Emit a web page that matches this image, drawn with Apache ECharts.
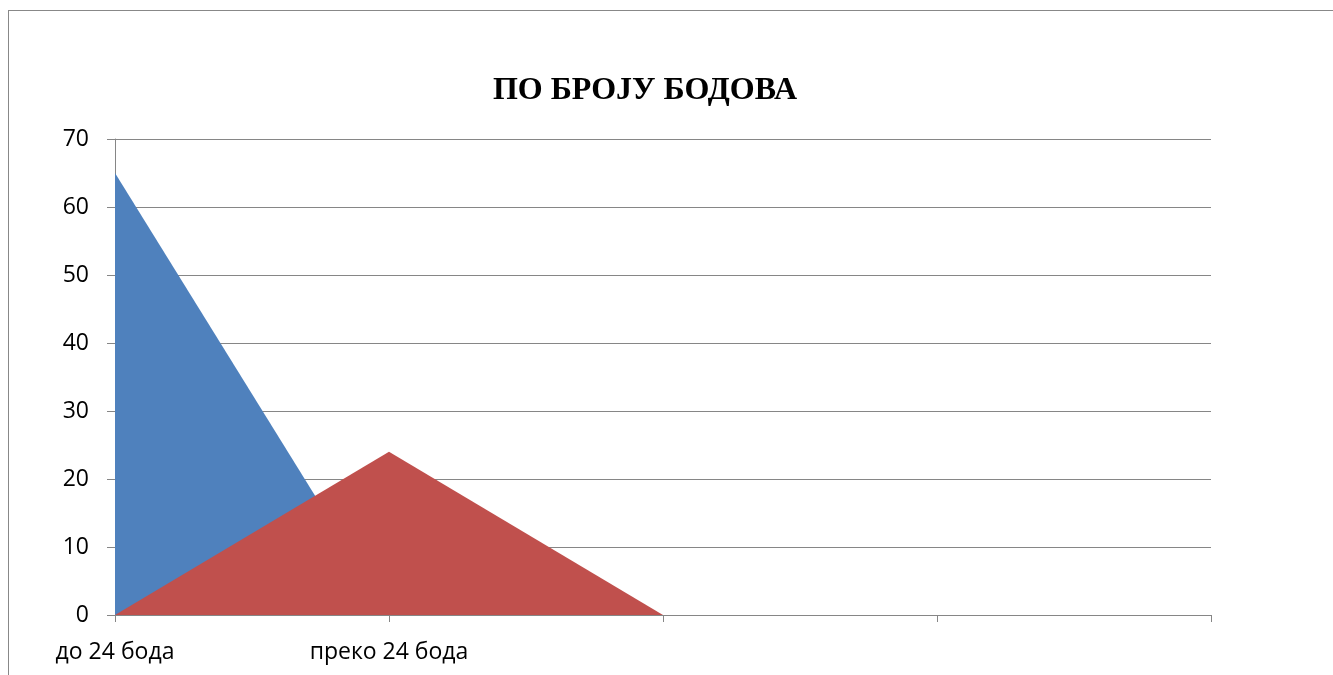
<!DOCTYPE html>
<html>
<head>
<meta charset="utf-8">
<script src="https://cdn.jsdelivr.net/npm/echarts@6/dist/echarts.min.js"></script>
<style>
  html, body { margin: 0; padding: 0; background: #fff; }
  #frame {
    position: absolute; left: 8px; top: 10px; width: 1400px; height: 700px;
    border: 1px solid #888; box-sizing: border-box;
  }
  #box { position: absolute; left: 0; top: 0; width: 1333px; height: 675px; }
</style>
</head>
<body>
<div id="frame"></div>
<div id="box"></div>
<script>
// категорије и вредности
const categories = ["до 24 бода", "преко 24 бода", "", "", ""];
const seriesA = [65, 0, null, null, null];
const seriesB = [0, 24, 0, null, null];
const yMin = 0, yMax = 70, yStep = 10;

const chart = echarts.init(document.getElementById("box"));
const axisGray = "#868686";
const font = "'Open Sans', 'Noto Sans', sans-serif";

const option = {
  backgroundColor: "transparent",
  animation: false,
  title: {
    text: "ПО БРОЈУ БОДОВА",
    left: 640,
    textAlign: "center",
    top: 70,
    textStyle: {
      fontFamily: "'Liberation Serif', serif",
      fontWeight: "bold",
      fontSize: 32,
      color: "#000",
    },
  },
  grid: { left: 115, right: 122, top: 139, bottom: 60 },
  xAxis: {
    type: "category",
    data: categories,
    boundaryGap: false,
    axisLine: { lineStyle: { color: axisGray, width: 1 } },
    axisTick: { show: true, length: 7, lineStyle: { color: axisGray } },
    axisLabel: {
      color: "#000",
      fontSize: 23,
      fontFamily: font,
      margin: 26,
      interval: 0,
    },
    splitLine: { show: false },
  },
  yAxis: {
    type: "value",
    min: yMin,
    max: yMax,
    interval: yStep,
    axisLine: { show: true, lineStyle: { color: axisGray } },
    axisTick: { show: true, length: 8, lineStyle: { color: axisGray } },
    axisLabel: {
      color: "#000",
      fontSize: 23,
      fontFamily: font,
      margin: 26,
    },
    splitLine: { show: true, lineStyle: { color: axisGray, width: 1 } },
  },
  series: [
    {
      name: "A",
      type: "line",
      data: seriesA,
      symbol: "none",
      lineStyle: { width: 0 },
      itemStyle: { color: "#4F81BD" },
      areaStyle: { color: "#4F81BD", opacity: 1 },
    },
    {
      name: "B",
      type: "line",
      data: seriesB,
      symbol: "none",
      lineStyle: { width: 0 },
      itemStyle: { color: "#C0504D" },
      areaStyle: { color: "#C0504D", opacity: 1 },
    },
  ],
};
chart.setOption(option);
</script>
</body>
</html>
